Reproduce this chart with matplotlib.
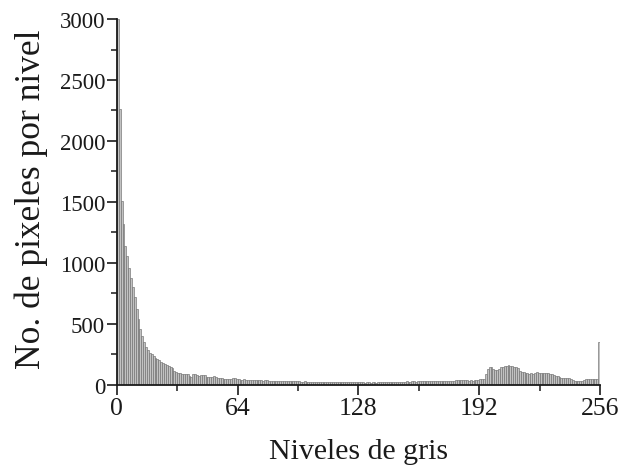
import matplotlib
matplotlib.use("Agg")
import matplotlib.pyplot as plt
import numpy as np

# Gray-level histogram: pixel count for each of the 256 levels
counts = [
    # 0-30
    3000, 2260, 1510, 1320, 1140, 1060, 960, 880, 800, 720,
    620, 540, 460, 400, 350, 310, 285, 265, 255, 240,
    220, 212, 205, 190, 180, 168, 160, 152, 145, 140, 118,
    # 31-50
    104, 100, 96, 92, 90, 88, 86, 70, 68, 88,
    90, 78, 76, 82, 82, 80, 64, 62, 64, 66,
    # 51-63
    70, 68, 58, 56, 55, 50, 48, 50, 48, 47, 55, 54, 48,
    # 64-80
    45, 44, 43, 45, 42, 41, 40, 42, 40, 38, 40, 42, 38, 36, 38, 37, 36,
    # 81-96
    34, 33, 35, 32, 33, 31, 32, 34, 30, 31, 29, 30, 28, 30, 29, 28,
    # 97-128
    27, 26, 28, 25, 27, 26, 24, 27, 25, 26, 24, 25, 23, 25, 24, 22,
    24, 23, 22, 24, 21, 23, 22, 21, 22, 20, 22, 21, 20, 22, 21, 20,
    # 129-145
    20, 21, 19, 20, 22, 19, 20, 21, 19, 20, 22, 21, 20, 23, 22, 21, 23,
    # 146-177
    24, 25, 23, 26, 25, 27, 26, 28, 27, 26, 28, 29, 27, 30, 28, 29,
    31, 28, 30, 29, 31, 30, 32, 30, 31, 33, 32, 34, 33, 35, 34, 36,
    # 178-185
    36, 38, 37, 39, 38, 40, 39, 41,
    # 186-194
    36, 38, 36, 40, 38, 42, 48, 50, 52,
    # 195-212
    90, 130, 145, 146, 128, 124, 126, 130, 145, 148,
    155, 158, 160, 157, 152, 148, 145, 140,
    # 213-233
    115, 108, 104, 98, 95, 92, 94, 90, 96, 104,
    98, 95, 96, 94, 97, 95, 93, 92, 80, 76, 72,
    # 234-247
    62, 60, 58, 56, 58, 55, 52, 40, 36, 34, 35, 33, 36, 38,
    # 248-255
    45, 48, 50, 47, 49, 52, 46, 355,
]
levels = np.arange(len(counts))

x_ticks = [0, 64, 128, 192, 256]
y_ticks = [0, 500, 1000, 1500, 2000, 2500, 3000]

plt.rcParams['font.family'] = ['Liberation Serif', 'DejaVu Serif']

fig = plt.figure(figsize=(6.35, 4.77), dpi=100)
ax = fig.add_axes([0.184, 0.191, 0.761, 0.767])

ax.bar(levels, counts, width=1.0, align='edge',
       facecolor='#c2c2c2', edgecolor='#707070', linewidth=0.45)

ax.set_xlim(0, 256)
ax.set_ylim(0, 3000)
ax.set_xticks(x_ticks)
ax.set_xticks([32, 96, 160, 224], minor=True)
ax.set_yticks(y_ticks)
ax.set_yticks(np.arange(250, 3000, 500), minor=True)

for side in ('top', 'right'):
    ax.spines[side].set_visible(False)
for side in ('left', 'bottom'):
    ax.spines[side].set_linewidth(1.3)
    ax.spines[side].set_color('#1a1a1a')

ax.tick_params(which='major', direction='out', length=7, width=1.2,
               colors='#1a1a1a')
ax.tick_params(which='minor', direction='out', length=4, width=1.1,
               colors='#1a1a1a')
ax.tick_params(axis='x', which='major', labelsize=18.5, pad=2)
ax.tick_params(axis='y', which='major', labelsize=16.5, pad=1.5)

ax.set_xlabel('Niveles de gris', fontsize=21.5, color='#1a1a1a')
ax.set_ylabel('No. de pixeles por nivel', fontsize=25.5, color='#1a1a1a')
ax.xaxis.set_label_coords(0.5, -0.145)
ax.yaxis.set_label_coords(-0.143, 0.51)

fig.savefig('out.png', dpi=100)
